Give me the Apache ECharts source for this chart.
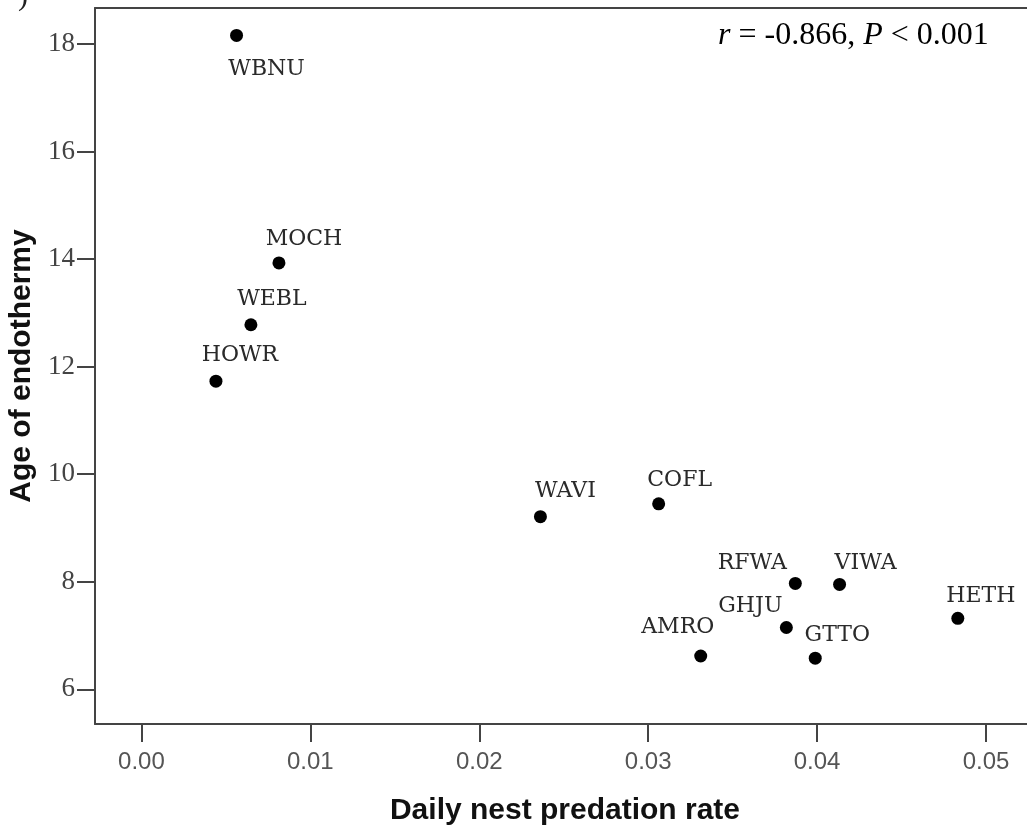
<!DOCTYPE html>
<html>
<head>
<meta charset="utf-8">
<style>
  html, body { margin: 0; padding: 0; background: #fff; }
  #chart { width: 1027px; height: 834px; }
</style>
<script src="https://cdn.jsdelivr.net/npm/echarts@6/dist/echarts.min.js"></script>
</head>
<body>
<div id="chart"></div>
<script>
// Species codes
const species = ['WBNU', 'MOCH', 'WEBL', 'HOWR', 'WAVI', 'COFL', 'RFWA', 'VIWA', 'HETH', 'GHJU', 'AMRO', 'GTTO'];
// Daily nest predation rate per species
const predationRate = [0.00563, 0.00814, 0.00648, 0.00441, 0.02362, 0.03062, 0.03871, 0.04133, 0.04833, 0.03818, 0.03311, 0.03989];
// Age of endothermy (days) per species
const endothermyAge = [18.16, 13.93, 12.78, 11.73, 9.21, 9.45, 7.97, 7.95, 7.32, 7.15, 6.62, 6.58];
// Axis tick labels
const xTicks = [0.00, 0.01, 0.02, 0.03, 0.04, 0.05];
const yTicks = [6, 8, 10, 12, 14, 16, 18];

// Label placement (pixel offsets from each dot's centre)
const labelOffsets = {
  WBNU: [30, 34], MOCH: [25, -24], WEBL: [21, -25], HOWR: [24, -26],
  WAVI: [25, -25], COFL: [21, -24], RFWA: [-43, -20], VIWA: [26, -21],
  HETH: [23, -22], GHJU: [-36, -21], AMRO: [-23, -29], GTTO: [22, -23]
};

const points = species.map((name, i) => ({
  name: name,
  value: [predationRate[i], endothermyAge[i]],
  label: { offset: labelOffsets[name] }
}));

const axisColor = '#444';
const xMin = -0.00275, xMax = 0.0529;
const chart = echarts.init(document.getElementById('chart'), null, { renderer: 'canvas' });

chart.setOption({
  animation: false,
  backgroundColor: '#fff',
  grid: {
    left: 95, top: 8, right: -8, bottom: 110,
    outerBoundsMode: 'none',
    show: false
  },
  xAxis: [{
    type: 'value',
    min: xMin,
    max: xMax,
    splitLine: { show: false },
    axisLine: { show: true, onZero: false, lineStyle: { color: axisColor, width: 2 } },
    axisTick: { show: true, inside: false, length: 18, customValues: xTicks, lineStyle: { color: axisColor, width: 2 } },
    axisLabel: {
      customValues: xTicks,
      margin: 26,
      fontFamily: 'Liberation Sans',
      fontSize: 24,
      color: '#555',
      formatter: v => v.toFixed(2)
    },
    name: 'Daily nest predation rate',
    nameLocation: 'middle',
    nameGap: 72,
    nameTextStyle: { fontFamily: 'Liberation Sans', fontWeight: 'bold', fontSize: 30, color: '#111' }
  }, {
    // top frame line
    type: 'value',
    position: 'top',
    min: xMin,
    max: xMax,
    splitLine: { show: false },
    axisLine: { show: true, onZero: false, lineStyle: { color: axisColor, width: 2 } },
    axisTick: { show: false },
    axisLabel: { show: false }
  }],
  yAxis: {
    type: 'value',
    min: 5.355,
    max: 18.67,
    splitLine: { show: false },
    axisLine: { show: true, onZero: false, lineStyle: { color: axisColor, width: 2 } },
    axisTick: { show: true, inside: false, length: 18, customValues: yTicks, lineStyle: { color: axisColor, width: 2 } },
    axisLabel: {
      customValues: yTicks,
      margin: 20,
      fontFamily: 'Liberation Serif',
      fontSize: 27,
      color: '#444'
    },
    name: 'Age of endothermy',
    nameLocation: 'middle',
    nameGap: 54,
    nameTextStyle: { fontFamily: 'Liberation Sans', fontWeight: 'bold', fontSize: 30, color: '#111' }
  },
  series: [{
    type: 'scatter',
    xAxisIndex: 0,
    data: points,
    symbol: 'circle',
    symbolSize: 13,
    itemStyle: { color: '#000', opacity: 1 },
    label: {
      show: true,
      position: 'inside',
      formatter: '{b}',
      fontFamily: 'DejaVu Serif',
      fontSize: 22,
      color: '#2a2a2a'
    }
  }],
  graphic: [
    {
      type: 'text',
      left: 718,
      top: 20,
      style: {
        text: '{i|r} = -0.866, {i|P} < 0.001',
        fontFamily: 'Liberation Serif',
        fontSize: 32,
        fill: '#000',
        rich: { i: { fontStyle: 'italic', fontFamily: 'Liberation Serif', fontSize: 32 } }
      }
    },
    {
      type: 'text',
      left: 18,
      top: -18,
      style: { text: ')', fontFamily: 'Liberation Serif', fontSize: 30, fill: '#222' }
    }
  ]
});
</script>
</body>
</html>
